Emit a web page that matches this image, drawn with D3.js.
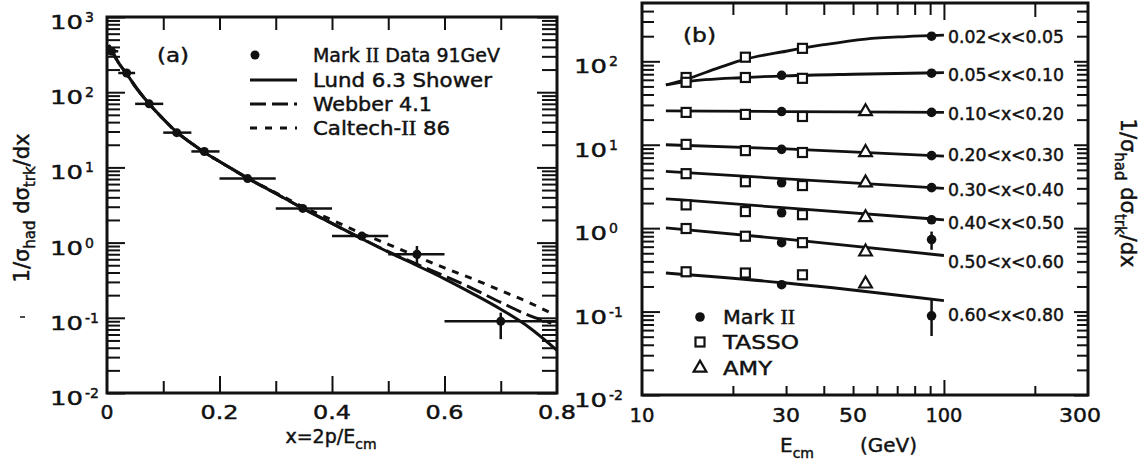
<!DOCTYPE html>
<html>
<head>
<meta charset="utf-8">
<script src="https://cdn.jsdelivr.net/npm/d3@7"></script>
<style>
body { margin: 0; background: #fff; }
svg { display: block; }
text { font-family: "DejaVu Sans", sans-serif; fill: #111; stroke: #111; stroke-width: 0.45px; }
</style>
</head>
<body>
<svg id="fig" width="1146" height="467"></svg>
<script>
// ---- panel (a): Mark II data at 91 GeV, binned in x = 2p/Ecm
var binLo  = [0, 0.02, 0.05, 0.10, 0.15, 0.20, 0.30, 0.40, 0.50, 0.60];
var binHi  = [0.02, 0.05, 0.10, 0.15, 0.20, 0.30, 0.40, 0.50, 0.60, 0.80];
var binMid = [0.008, 0.035, 0.075, 0.124, 0.173, 0.25, 0.348, 0.453, 0.551, 0.70];
var dataVal = [350, 180, 70, 29, 16.3, 7.1, 2.85, 1.22, 0.70, 0.09];
var dataLo  = [330, 170, 66, 27.5, 15.5, 6.7, 2.6, 1.08, 0.50, 0.052];
var dataHi  = [370, 190, 74, 30.5, 17.1, 7.5, 3.1, 1.38, 0.90, 0.117];

// model curves
var lundX = [0.003, 0.01, 0.02, 0.035, 0.05, 0.075, 0.1, 0.125, 0.15, 0.175, 0.2, 0.25, 0.3, 0.35, 0.4, 0.45, 0.5, 0.55, 0.6, 0.65, 0.7, 0.75, 0.8];
var lundY = [420, 340, 250, 175, 120, 70, 44, 29, 21, 15.5, 12, 7.2, 4.5, 2.8, 1.8, 1.15, 0.75, 0.5, 0.33, 0.21, 0.13, 0.075, 0.037];
var webberX = [0.003, 0.01, 0.02, 0.035, 0.05, 0.075, 0.1, 0.125, 0.15, 0.175, 0.2, 0.25, 0.3, 0.35, 0.4, 0.45, 0.5, 0.55, 0.6, 0.65, 0.7, 0.75, 0.79];
var webberY = [420, 340, 250, 175, 120, 70, 44, 29, 21, 15.5, 12, 7.2, 4.5, 2.8, 1.8, 1.16, 0.76, 0.52, 0.36, 0.245, 0.16, 0.108, 0.085];
var caltechX = [0.003, 0.01, 0.02, 0.035, 0.05, 0.075, 0.1, 0.125, 0.15, 0.175, 0.2, 0.25, 0.3, 0.35, 0.4, 0.45, 0.5, 0.55, 0.6, 0.65, 0.7, 0.75, 0.79];
var caltechY = [420, 340, 250, 175, 120, 70, 44, 29, 21, 15.5, 12, 7.2, 4.6, 2.95, 2.0, 1.35, 0.95, 0.66, 0.46, 0.33, 0.23, 0.16, 0.115];

var legendA = ["Data 91GeV", "Lund 6.3 Shower", "Webber 4.1", "86"];

// ---- panel (b): energy dependence in x bins
var binLabels = ["0.02<x<0.05", "0.05<x<0.10", "0.10<x<0.20", "0.20<x<0.30",
                 "0.30<x<0.40", "0.40<x<0.50", "0.50<x<0.60", "0.60<x<0.80"];
var tassoE = [14, 22, 34];
var tassoVal = [[64, 112, 143], [56, 64, 62.5], [24.4, 23.1, 21.8], [10.1, 8.5, 8.07],
                [4.5, 3.6, 3.24], [1.9, 1.58, 1.45], [0.99, 0.8, 0.67], [0.30, 0.29, 0.276]];
var markE = [29, 91];
var markVal = [[null, 200], [68, 72], [25, 24.4], [8.8, 7.4],
               [3.5, 3.06], [1.53, 1.26], [0.67, 0.73], [0.21, 0.089]];
var markErrLo = [null, null, null, null, null, null, 0.55, 0.051];
var markErrHi = [null, null, null, null, null, null, 0.91, 0.138];
var amyE = 55;
var amyVal = [null, null, 25, 8.1, 3.5, 1.34, 0.52, 0.215];

// fitted curves, one per bin: energies and values
var curveE = [[12, 14, 18, 22, 30, 40, 55, 75, 100],
              [12, 14, 22, 30, 50, 100],
              [12, 30, 100],
              [12, 30, 100],
              [12, 30, 100],
              [12, 30, 100],
              [12, 30, 100],
              [12, 30, 100]];
var curveV = [[52, 61, 84, 106, 132, 158, 185, 198, 206],
              [52, 57, 64, 67, 70, 73],
              [25.5, 25, 24.4],
              [10, 8.9, 7.3],
              [4.8, 3.9, 3.0],
              [2.25, 1.75, 1.26],
              [1.01, 0.74, 0.47],
              [0.29, 0.22, 0.135]];
var legendB = ["Mark", "TASSO", "AMY"];

var svg = d3.select("#fig");
var ink = "#111";

function minorLog(lo, hi, maxV) {
	var v = [];
	for (var k = lo; k <= hi; k++) {
		for (var d = 2; d <= 9; d++) {
			if (d * Math.pow(10, k) < maxV) v.push(d * Math.pow(10, k));
		}
	}
	return v;
}

function tickGroup(axis, tx, ty) {
	var g = svg.append("g").attr("transform", "translate(" + tx + "," + ty + ")").call(axis.tickFormat(""));
	g.select(".domain").remove();
	g.selectAll("line").attr("stroke", ink).attr("stroke-width", 2);
	return g;
}

function decadeLabel(x, y, exp, len) {
	svg.append("text").attr("x", x).attr("y", y + 12).attr("text-anchor", "end")
		.attr("font-size", 20).attr("textLength", len).attr("lengthAdjust", "spacingAndGlyphs").text("10");
	svg.append("text").attr("x", x + 2).attr("y", y + 5).attr("font-size", 14).text(exp);
}

function fitText(t, len) {
	return t.attr("textLength", len).attr("lengthAdjust", "spacingAndGlyphs");
}

// ================= panel (a)
var xa = d3.scaleLinear().domain([0, 0.8]).range([107, 557]);
var ya = d3.scaleLog().domain([1e-2, 1e3]).range([393, 17]);

var decA = [1e-2, 1e-1, 1, 10, 100, 1000];
var minA = minorLog(-2, 2, 1000);

tickGroup(d3.axisBottom(xa).tickValues([0.1, 0.3, 0.5, 0.7]).tickSize(-12), 0, 393);
tickGroup(d3.axisBottom(xa).tickValues([0.2, 0.4, 0.6]).tickSize(-17), 0, 393);
tickGroup(d3.axisTop(xa).tickValues([0.1, 0.2, 0.3, 0.4, 0.5, 0.6, 0.7]).tickSize(-13), 0, 17);
tickGroup(d3.axisLeft(ya).tickValues(decA).tickSize(-18), 107, 0);
tickGroup(d3.axisLeft(ya).tickValues(minA).tickSize(-13), 107, 0);
tickGroup(d3.axisRight(ya).tickValues(decA).tickSize(-20), 557, 0);
tickGroup(d3.axisRight(ya).tickValues(minA).tickSize(-15), 557, 0);

svg.append("rect").attr("x", 107).attr("y", 17).attr("width", 450).attr("height", 376)
	.attr("fill", "none").attr("stroke", ink).attr("stroke-width", 3);

["0", "0.2", "0.4", "0.6", "0.8"].forEach(function(t, i) {
	fitText(svg.append("text").attr("x", xa(i * 0.2)).attr("y", 419).attr("text-anchor", "middle")
		.attr("font-size", 19).text(t), t.length == 1 ? 13 : 38);
});
decA.forEach(function(d) {
	decadeLabel(83, ya(d), String(Math.round(Math.log10(d))), 33);
});

var lineA = d3.line().x(function(d) { return xa(d[0]); }).y(function(d) { return ya(d[1]); }).curve(d3.curveMonotoneX);

svg.append("path").datum(d3.zip(caltechX, caltechY)).attr("d", lineA)
	.attr("fill", "none").attr("stroke", ink).attr("stroke-width", 3).attr("stroke-dasharray", "7,7");
svg.append("path").datum(d3.zip(webberX, webberY)).attr("d", lineA)
	.attr("fill", "none").attr("stroke", ink).attr("stroke-width", 3).attr("stroke-dasharray", "16,6");
svg.append("path").datum(d3.zip(lundX, lundY)).attr("d", lineA)
	.attr("fill", "none").attr("stroke", ink).attr("stroke-width", 3);

// data points with bin widths
var pts = svg.append("g");
binMid.forEach(function(x, i) {
	pts.append("line").attr("x1", xa(binLo[i])).attr("x2", xa(binHi[i]))
		.attr("y1", ya(dataVal[i])).attr("y2", ya(dataVal[i])).attr("stroke", ink).attr("stroke-width", 2.5);
	pts.append("line").attr("x1", xa(x)).attr("x2", xa(x))
		.attr("y1", ya(dataLo[i])).attr("y2", ya(dataHi[i])).attr("stroke", ink).attr("stroke-width", 2.5);
	pts.append("circle").attr("cx", xa(x)).attr("cy", ya(dataVal[i])).attr("r", 4.5).attr("fill", ink);
});

// legend (a)
fitText(svg.append("text").attr("x", 157).attr("y", 62).attr("font-size", 19).text("(a)"), 32);
var legY = [55, 80, 104, 128];
svg.append("circle").attr("cx", 255).attr("cy", legY[0]).attr("r", 4.5).attr("fill", ink);
[null, "none", "16,6", "7,8"].forEach(function(dash, i) {
	if (dash === null) return;
	svg.append("line").attr("x1", 250).attr("x2", 297).attr("y1", legY[i]).attr("y2", legY[i])
		.attr("stroke", ink).attr("stroke-width", 3).attr("stroke-dasharray", dash);
});
var t0 = fitText(svg.append("text").attr("x", 313).attr("y", legY[0] + 7).attr("font-size", 19), 187);
t0.append("tspan").text("Mark ");
t0.append("tspan").attr("font-family", "Liberation Serif").attr("font-size", 20).text("II");
t0.append("tspan").text("  " + legendA[0]);
fitText(svg.append("text").attr("x", 313).attr("y", legY[1] + 7).attr("font-size", 19).text(legendA[1]), 179);
fitText(svg.append("text").attr("x", 313).attr("y", legY[2] + 7).attr("font-size", 19).text(legendA[2]), 119);
var t3 = fitText(svg.append("text").attr("x", 313).attr("y", legY[3] + 7).attr("font-size", 19), 137);
t3.append("tspan").text("Caltech-");
t3.append("tspan").attr("font-family", "Liberation Serif").attr("font-size", 20).text("II");
t3.append("tspan").text(" " + legendA[3]);

// axis titles (a)
var xt = svg.append("text").attr("x", 331).attr("y", 443).attr("text-anchor", "middle").attr("font-size", 19);
xt.append("tspan").text("x=2p/E");
xt.append("tspan").attr("font-size", 14).attr("dy", 6).text("cm");

function yTitle(x, y, rot) {
	var t = svg.append("text").attr("transform", "translate(" + x + "," + y + ") rotate(" + rot + ")")
		.attr("text-anchor", "middle").attr("font-size", 21);
	t.append("tspan").text("1/σ");
	t.append("tspan").attr("font-size", 15).attr("dy", 6).text("had");
	t.append("tspan").attr("dy", -6).text(" dσ");
	t.append("tspan").attr("font-size", 15).attr("dy", 6).text("trk");
	t.append("tspan").attr("dy", -6).text("/dx");
}
yTitle(29, 208, -90);
svg.append("line").attr("x1", 20).attr("x2", 25).attr("y1", 317).attr("y2", 317).attr("stroke", ink).attr("stroke-width", 1.5);

// ================= panel (b)
var xb = d3.scaleLog().domain([10, 300]).range([642, 1088]);
var yb = d3.scaleLog().domain([1e-2, 500]).range([395, 3]);

var decB = [1e-2, 1e-1, 1, 10, 100];
var minB = minorLog(-2, 2, 480);
var eMinor = [20, 30, 40, 50, 60, 70, 80, 90];

tickGroup(d3.axisBottom(xb).tickValues(eMinor.concat([200])).tickSize(-9), 0, 395);
tickGroup(d3.axisBottom(xb).tickValues([100]).tickSize(-15), 0, 395);
tickGroup(d3.axisTop(xb).tickValues(eMinor).tickSize(-12), 0, 3);
tickGroup(d3.axisTop(xb).tickValues([100]).tickSize(-17), 0, 3);
tickGroup(d3.axisTop(xb).tickValues([200]).tickSize(-14), 0, 3);
tickGroup(d3.axisLeft(yb).tickValues(decB).tickSize(-18), 642, 0);
tickGroup(d3.axisLeft(yb).tickValues(minB).tickSize(-12), 642, 0);
tickGroup(d3.axisRight(yb).tickValues(decB).tickSize(-14), 1088, 0);
tickGroup(d3.axisRight(yb).tickValues(minB).tickSize(-11), 1088, 0);

svg.append("rect").attr("x", 642).attr("y", 3).attr("width", 446).attr("height", 392)
	.attr("fill", "none").attr("stroke", ink).attr("stroke-width", 3);

[[10, 25], [30, 28], [50, 28], [100, 37], [300, 42]].forEach(function(t) {
	fitText(svg.append("text").attr("x", t[0] == 300 ? xb(t[0]) - 8 : xb(t[0])).attr("y", 422).attr("text-anchor", "middle")
		.attr("font-size", 20).text(String(t[0])), t[1]);
});
decB.forEach(function(d) {
	decadeLabel(607, yb(d), String(Math.round(Math.log10(d))), 33);
});

var lineB = d3.line().x(function(d) { return xb(d[0]); }).y(function(d) { return yb(d[1]); }).curve(d3.curveMonotoneX);

curveE.forEach(function(es, i) {
	svg.append("path").datum(d3.zip(es, curveV[i])).attr("d", lineB)
		.attr("fill", "none").attr("stroke", ink).attr("stroke-width", 2.8);
});

var triangle = d3.symbol().type(d3.symbolTriangle).size(70);
var marks = svg.append("g");
binLabels.forEach(function(lab, i) {
	tassoE.forEach(function(e, j) {
		marks.append("rect").attr("x", xb(e) - 4.5).attr("y", yb(tassoVal[i][j]) - 4.5)
			.attr("width", 9).attr("height", 9).attr("fill", "#fff").attr("stroke", ink).attr("stroke-width", 2.2);
	});
	if (amyVal[i] !== null) {
		marks.append("path").attr("d", triangle)
			.attr("transform", "translate(" + xb(amyE) + "," + yb(amyVal[i]) + ")")
			.attr("fill", "#fff").attr("stroke", ink).attr("stroke-width", 2.2);
	}
	if (markErrLo[i] !== null) {
		marks.append("line").attr("x1", xb(markE[1])).attr("x2", xb(markE[1]))
			.attr("y1", yb(markErrLo[i])).attr("y2", yb(markErrHi[i])).attr("stroke", ink).attr("stroke-width", 2.5);
	}
	markE.forEach(function(e, j) {
		if (markVal[i][j] === null) return;
		marks.append("circle").attr("cx", xb(e)).attr("cy", yb(markVal[i][j])).attr("r", 4.8).attr("fill", ink);
	});
});

// bin labels to the right of the curves
var labY = [37, 75, 114, 155, 190, 223, 262, 315];
binLabels.forEach(function(lab, i) {
	fitText(svg.append("text").attr("x", 948).attr("y", labY[i] + 6).attr("font-size", 17).text(lab), 116);
});

fitText(svg.append("text").attr("x", 683).attr("y", 42).attr("font-size", 19).text("(b)"), 33);

// legend (b)
var legBY = [317, 342, 368];
svg.append("circle").attr("cx", 700).attr("cy", legBY[0]).attr("r", 4.8).attr("fill", ink);
svg.append("rect").attr("x", 695.5).attr("y", legBY[1] - 4.5).attr("width", 9).attr("height", 9)
	.attr("fill", "#fff").attr("stroke", ink).attr("stroke-width", 2.2);
svg.append("path").attr("d", triangle).attr("transform", "translate(700," + legBY[2] + ")")
	.attr("fill", "#fff").attr("stroke", ink).attr("stroke-width", 2.2);
var m0 = fitText(svg.append("text").attr("x", 723).attr("y", legBY[0] + 7).attr("font-size", 19), 72);
m0.append("tspan").text(legendB[0] + " ");
m0.append("tspan").attr("font-family", "Liberation Serif").attr("font-size", 20).text("II");
fitText(svg.append("text").attr("x", 723).attr("y", legBY[1] + 7).attr("font-size", 19).text(legendB[1]), 76);
fitText(svg.append("text").attr("x", 723).attr("y", legBY[2] + 7).attr("font-size", 19).text(legendB[2]), 49);

// axis titles (b)
var xt2 = svg.append("text").attr("x", 780).attr("y", 452).attr("font-size", 20);
xt2.append("tspan").text("E");
xt2.append("tspan").attr("font-size", 14).attr("dy", 6).text("cm");
xt2.append("tspan").attr("dy", -6).attr("x", 860).text("(GeV)");

yTitle(1121, 193, 90);
</script>
</body>
</html>
